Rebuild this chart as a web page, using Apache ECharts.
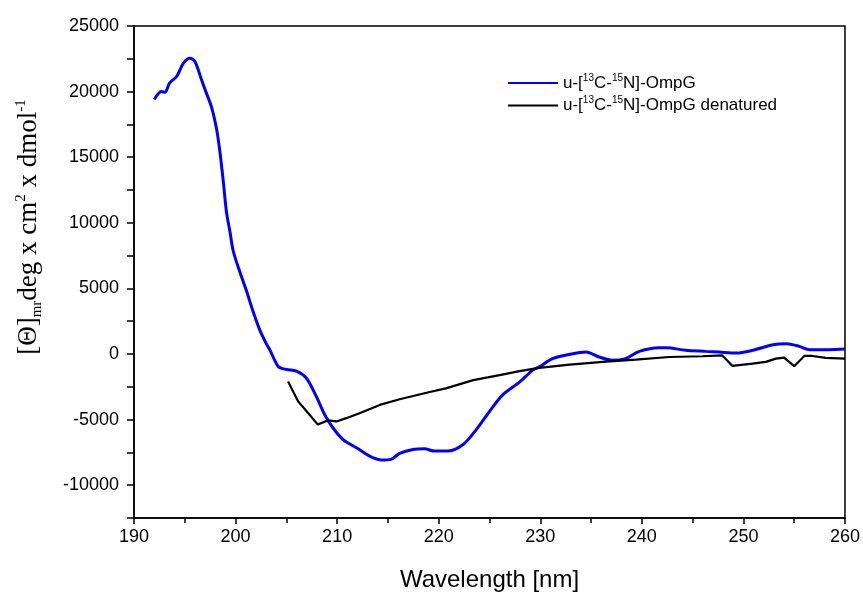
<!DOCTYPE html>
<html>
<head>
<meta charset="utf-8">
<script src="https://cdn.jsdelivr.net/npm/echarts@6/dist/echarts.min.js"></script>
<style>html,body{margin:0;padding:0;background:#fff}#c{width:863px;height:597px}</style>
</head>
<body>
<div id="c"></div>
<script>
// Native OmpG
var nativeWavelength = [192.0,192.7,193.05,193.5,194.2,194.85,195.5,196.0,196.65,197.0,197.64,198.13,198.46,198.8,199.1,199.44,199.77,200.4,201.08,201.7,202.4,203.05,203.4,204.2,205.0,206.0,206.98,207.96,208.78,209.6,210.58,211.9,213.2,214.36,215.3,216.15,217.46,218.6,219.6,220.9,222.4,223.7,225.0,226.3,227.95,229.26,229.9,231.2,232.9,234.5,235.8,237.1,238.4,239.75,241.7,242.4,244.3,246.3,247.6,249.3,250.9,252.9,254.2,255.5,256.5,258.4,260.0];
var nativeValues = [19400,20000,19950,20650,21150,22150,22550,22300,20900,20150,18800,17150,15400,13100,10850,9350,7850,6300,4800,3300,1800,750,280,-950,-1180,-1300,-1850,-3250,-4630,-5640,-6520,-7150,-7780,-8080,-8030,-7580,-7280,-7230,-7400,-7400,-6900,-5760,-4380,-3120,-2150,-1230,-980,-350,-25,150,-230,-480,-350,200,480,480,280,200,150,75,280,700,780,580,330,330,380];
// Denatured OmpG
var denatWavelength = [205.17,206.15,207.14,208.1,209.1,209.93,210.9,212.2,214.2,216.15,218.8,220.7,223.4,226.0,227.95,229.9,232.9,236.15,239.4,242.7,245.97,247.9,248.9,250.9,252.2,253.2,254.0,255.0,256.0,256.8,258.1,260.0];
var denatValues = [-2100,-3600,-4500,-5380,-5060,-5140,-4890,-4510,-3880,-3450,-2950,-2620,-1990,-1610,-1300,-1060,-810,-600,-430,-230,-170,-100,-900,-730,-600,-350,-280,-930,-150,-150,-300,-350];
var seriesNames = ['u-[13C-15N]-OmpG', 'u-[13C-15N]-OmpG denatured'];
var legendRich = {
  0: '{n|u-[}{s|13}{n|C-}{s|15}{n|N]-OmpG}',
  1: '{n|u-[}{s|13}{n|C-}{s|15}{n|N]-OmpG denatured}'
};

function pairs(xs, ys) { return xs.map(function (x, i) { return [x, ys[i]]; }); }

var chart = echarts.init(document.getElementById('c'), null, {renderer: 'canvas'});
var sans = "'Liberation Sans', Arial, sans-serif";
var serif = "'Liberation Serif', 'Times New Roman', serif";
chart.setOption({
  animation: false,
  backgroundColor: '#fff',
  grid: {left: 134, right: 17, top: 26, bottom: 76, show: true, borderColor: '#000', borderWidth: 1.5, containLabel: false},
  legend: {
    orient: 'vertical', left: 502, top: 68, itemWidth: 50, itemHeight: 14, itemGap: 4,
    data: seriesNames,
    itemStyle: {opacity: 0},
    formatter: function (name) { return legendRich[seriesNames.indexOf(name)]; },
    textStyle: {
      color: '#000', fontFamily: sans, fontSize: 17,
      rich: {
        n: {fontFamily: sans, fontSize: 17, lineHeight: 20, color: '#000'},
        s: {fontFamily: sans, fontSize: 10, lineHeight: 10, verticalAlign: 'top', color: '#000'}
      }
    }
  },
  xAxis: {
    type: 'value', min: 190, max: 260, interval: 10,
    name: 'Wavelength [nm]', nameLocation: 'middle', nameGap: 50,
    nameTextStyle: {fontFamily: sans, fontSize: 24, color: '#000'},
    axisLine: {show: true, onZero: false, lineStyle: {color: '#000', width: 1.5}},
    axisTick: {show: true, inside: false, length: 6, lineStyle: {color: '#000', width: 1.5}},
    minorTick: {show: true, splitNumber: 2, length: 5, lineStyle: {color: '#000', width: 1.5}},
    axisLabel: {fontFamily: sans, fontSize: 18, color: '#000', margin: 10},
    splitLine: {show: false}
  },
  yAxis: {
    type: 'value', min: -12500, max: 25000, interval: 2500,
    axisLine: {show: true, onZero: false, lineStyle: {color: '#000', width: 1.5}},
    axisTick: {show: true, inside: false, length: 7, lineStyle: {color: '#000', width: 1.5}},
    axisLabel: {
      fontFamily: sans, fontSize: 18, color: '#000', margin: 15,
      formatter: function (v) { return v % 5000 === 0 ? String(v) : ''; }
    },
    splitLine: {show: false}
  },
  graphic: [{
    type: 'text', x: 29, y: 227, rotation: Math.PI / 2,
    style: {
      text: '{n|[Θ]}{b|mr}{n|deg x cm}{t|2}{n| x dmol}{t|-1}',
      align: 'center', verticalAlign: 'middle',
      fill: '#000', fontFamily: serif, fontSize: 27,
      rich: {
        n: {fontFamily: serif, fontSize: 27, lineHeight: 31, fill: '#000'},
        b: {fontFamily: serif, fontSize: 15, lineHeight: 14, verticalAlign: 'bottom', fill: '#000'},
        t: {fontFamily: serif, fontSize: 15, lineHeight: 14, verticalAlign: 'top', fill: '#000'}
      }
    }
  }],
  series: [{
    name: seriesNames[0], type: 'line', data: pairs(nativeWavelength, nativeValues),
    showSymbol: false, symbol: 'none', smooth: 0.3,
    lineStyle: {color: '#0000ff', width: 3}, itemStyle: {color: '#0000ff'}
  }, {
    name: seriesNames[1], type: 'line', data: pairs(denatWavelength, denatValues),
    showSymbol: false, symbol: 'none', smooth: false,
    lineStyle: {color: '#000', width: 2.2}, itemStyle: {color: '#000'}
  }]
});
</script>
</body>
</html>
